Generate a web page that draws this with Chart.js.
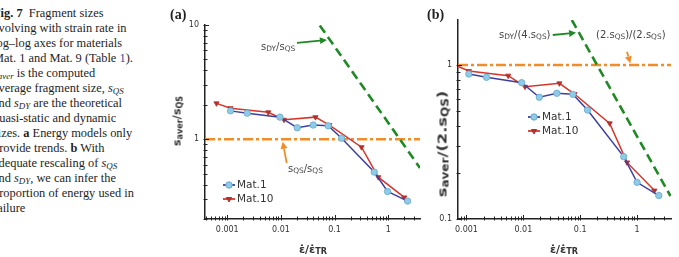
<!DOCTYPE html>
<html>
<head>
<meta charset="utf-8">
<script src="https://cdn.jsdelivr.net/npm/chart.js@4/dist/chart.umd.min.js"></script>
<style>
  body { margin: 0; width: 679px; height: 257px; overflow: hidden; background: #fff; position: relative; font-family: "DejaVu Sans", sans-serif; }
  canvas { position: absolute; top: 0; }
  .abs { position: absolute; white-space: nowrap; }
  #caption { position: absolute; left: -7px; top: 6px; font-family: "Liberation Serif", "Times New Roman", serif; font-size: 12.4px; line-height: 15px; color: #1e1e1e; }
  #caption div { white-space: nowrap; height: 15px; }
  #caption sub { font-size: 72%; vertical-align: -0.2em; line-height: 0; }
  .link { color: #2a4fa8; }
  .panel { font-family: "Liberation Serif", serif; font-weight: bold; font-size: 14px; color: #222; }
  .note { font-size: 10px; color: #444; }
  .note sub, .title sub { font-size: 74%; vertical-align: -0.2em; line-height: 0; }
  .title { font-weight: bold; color: #333; }
  .ytitle { transform: translate(-50%, -50%) rotate(-90deg); }
  .xtitle { transform: translate(-50%, -50%); }
</style>
</head>
<body>
<div id="caption">
  <div><b>Fig. 7</b>&nbsp; Fragment sizes</div>
  <div>evolving with strain rate in</div>
  <div>log–log axes for materials</div>
  <div>Mat. 1 and Mat. 9 (Table <span class="link">1</span>).</div>
  <div><i>s</i><sub><i>aver</i></sub> is the computed</div>
  <div>average fragment size, <i>s<sub>QS</sub></i></div>
  <div>and <i>s<sub>DY</sub></i> are the theoretical</div>
  <div>quasi-static and dynamic</div>
  <div>sizes. <b>a</b> Energy models only</div>
  <div>provide trends. <b>b</b> With</div>
  <div>adequate rescaling of <i>s<sub>QS</sub></i></div>
  <div>and <i>s<sub>DY</sub></i>, we can infer the</div>
  <div>proportion of energy used in</div>
  <div>failure</div>
</div>

<canvas id="chartA" width="270" height="257" style="left:160px"></canvas>
<canvas id="chartB" width="251" height="257" style="left:428px"></canvas>

<div class="abs panel" style="left:170px;top:7px">(a)</div>
<div class="abs panel" style="left:427px;top:7px">(b)</div>

<div class="abs note" style="left:261px;top:41px">s<sub>DY</sub>/s<sub>QS</sub></div>
<div class="abs note" style="left:288px;top:163px">s<sub>QS</sub>/s<sub>QS</sub></div>
<div class="abs note" style="left:499px;top:29px">s<sub>DY</sub>/(4.s<sub>QS</sub>)</div>
<div class="abs note" style="left:596px;top:29px">(2.s<sub>QS</sub>)/(2.s<sub>QS</sub>)</div>

<div class="abs title ytitle" style="left:177px;top:121px;font-size:11px">s<sub>aver</sub>/s<sub>QS</sub></div>
<div class="abs title ytitle" style="left:442px;top:144px;font-size:13px;transform:translate(-50%,-50%) rotate(-90deg) scaleX(1.25)">s<sub>aver</sub>/(2.s<sub>QS</sub>)</div>
<div class="abs title xtitle" style="left:313px;top:249px;font-size:11px">ε̇/ε̇<sub>TR</sub></div>
<div class="abs title xtitle" style="left:564px;top:249px;font-size:11px">ε̇/ε̇<sub>TR</sub></div>

<script>
// tick labels
var xTicksA = [0.001, 0.01, 0.1, 1]
var yTicksA = [1, 10]
var xTicksB = [0.001, 0.01, 0.1, 1]
var yTicksB = [0.1, 1]

// panel (a): s_aver / s_QS
var rateA1 = [0.00115, 0.00236, 0.0096, 0.0201, 0.040, 0.076, 0.135, 0.548, 0.97, 2.29]
var sizeA1 = [1.77, 1.69, 1.56, 1.26, 1.33, 1.31, 1.02, 0.515, 0.348, 0.287]
var rateA10 = [0.00063, 0.00115, 0.0058, 0.0114, 0.044, 0.080, 0.318, 0.652, 1.99]
var sizeA10 = [2.06, 1.87, 1.72, 1.48, 1.56, 1.33, 0.851, 0.465, 0.309]
var dyRateA = [0.053, 3.9]
var dySizeA = [9.9, 0.56]
var qsLevelA = 1

// panel (b): s_aver / (2 s_QS)
var rateB1 = [0.0011, 0.00225, 0.00935, 0.0191, 0.0388, 0.0743, 0.1346, 0.582, 1.0, 2.41]
var sizeB1 = [0.874, 0.832, 0.768, 0.617, 0.655, 0.645, 0.510, 0.254, 0.173, 0.142]
var rateB10 = [0.00062, 0.0011, 0.00543, 0.0107, 0.0431, 0.0794, 0.33, 0.667, 2.02]
var sizeB10 = [1.0, 0.914, 0.853, 0.723, 0.760, 0.648, 0.418, 0.233, 0.153]
var dyRateB = [0.0713, 3.87]
var dySizeB = [1.96, 0.141]
var qsLevelB = 1

var names = ['Mat.1', 'Mat.10']

function pts(xs, ys) {
  return xs.map(function(x, i) { return {x: x, y: ys[i]} })
}

function isLabel(v, labels) {
  return labels.some(function(l) { return Math.abs(v / l - 1) < 1e-6 })
}

function logTicks(min, max) {
  var out = []
  for (var k = Math.floor(Math.log10(min)); k <= Math.ceil(Math.log10(max)); k++) {
    for (var m = 1; m < 10; m++) {
      var v = m * Math.pow(10, k)
      if (v >= min * 0.9999 && v <= max * 1.0001) out.push({value: v})
    }
  }
  return out
}

function axis(min, max, labels, size, pad) {
  return {
    type: 'logarithmic',
    min: min,
    max: max,
    afterBuildTicks: function(scale) { scale.ticks = logTicks(min, max) },
    afterFit: function(scale) {
      if (scale.isHorizontal()) scale.height = size
      else scale.width = size
    },
    grid: {display: false, drawTicks: false},
    border: {color: '#222', width: 1.5},
    ticks: {
      autoSkip: false,
      maxRotation: 0,
      padding: pad,
      color: '#333',
      font: {family: 'DejaVu Sans', size: 8},
      callback: function(v) { return isLabel(v, labels) ? String(v) : '' },
    },
  }
}

// small tick marks, like the original axes
var tickMarks = {
  id: 'tickMarks',
  afterDatasetsDraw: function(chart, args, opts) {
    var ctx = chart.ctx
    var a = chart.chartArea
    ctx.save()
    ctx.strokeStyle = '#222'
    ctx.lineWidth = 1
    chart.scales.x.ticks.forEach(function(t) {
      var px = Math.round(chart.scales.x.getPixelForValue(t.value)) + 0.5
      var len = isLabel(t.value, opts.xLabels) ? 4 : 2.5
      ctx.beginPath()
      ctx.moveTo(px, a.bottom - len)
      ctx.lineTo(px, a.bottom + 1.5)
      ctx.stroke()
    })
    chart.scales.y.ticks.forEach(function(t) {
      var py = Math.round(chart.scales.y.getPixelForValue(t.value)) + 0.5
      var len = isLabel(t.value, opts.yLabels) ? 4 : 2.5
      ctx.beginPath()
      ctx.moveTo(a.left - 1.5, py)
      ctx.lineTo(a.left + len, py)
      ctx.stroke()
    })
    ctx.restore()
  },
}

// arrows pointing from the notes to the reference lines (data coordinates)
var arrows = {
  id: 'arrows',
  afterDatasetsDraw: function(chart, args, opts) {
    var ctx = chart.ctx
    var sx = chart.scales.x, sy = chart.scales.y
    ;(opts.list || []).forEach(function(ar) {
      var x0 = sx.getPixelForValue(ar.from[0]), y0 = sy.getPixelForValue(ar.from[1])
      var x1 = sx.getPixelForValue(ar.to[0]), y1 = sy.getPixelForValue(ar.to[1])
      var ang = Math.atan2(y1 - y0, x1 - x0)
      var hl = 7, hw = 3.5
      var bx = x1 - hl * Math.cos(ang), by = y1 - hl * Math.sin(ang)
      ctx.save()
      ctx.strokeStyle = ar.color
      ctx.fillStyle = ar.color
      ctx.lineWidth = 1.8
      ctx.beginPath()
      ctx.moveTo(x0, y0)
      ctx.lineTo(bx, by)
      ctx.stroke()
      ctx.beginPath()
      ctx.moveTo(x1, y1)
      ctx.lineTo(bx + hw * Math.sin(ang), by - hw * Math.cos(ang))
      ctx.lineTo(bx - hw * Math.sin(ang), by + hw * Math.cos(ang))
      ctx.closePath()
      ctx.fill()
      ctx.restore()
    })
  },
}

// legend drawn inside the plot area
var innerLegend = {
  id: 'innerLegend',
  afterDatasetsDraw: function(chart, args, opts) {
    var ctx = chart.ctx
    var a = chart.chartArea
    ctx.save()
    chart.data.datasets.forEach(function(ds, i) {
      if (!ds.label) return
      var x = a.left + opts.x, y = a.top + opts.y + i * 14
      ctx.strokeStyle = ds.borderColor
      ctx.lineWidth = 1.8
      ctx.beginPath()
      ctx.moveTo(x, y)
      ctx.lineTo(x + 12, y)
      ctx.stroke()
      ctx.fillStyle = ds.pointBackgroundColor
      ctx.strokeStyle = ds.pointBorderColor
      ctx.lineWidth = 1
      Chart.helpers.drawPoint(ctx, {
        pointStyle: ds.pointStyle, rotation: ds.pointRotation || 0,
        radius: ds.pointRadius, borderWidth: 1,
      }, x + 6, y)
      ctx.fillStyle = '#333'
      ctx.font = '10.5px "DejaVu Sans"'
      ctx.textBaseline = 'middle'
      ctx.fillText(ds.label, x + 14, y + 0.5)
    })
    ctx.restore()
  },
}

function datasets(r1, s1, r10, s10, dyR, dyS, xmin, xmax, level) {
  return [
    {
      label: names[0], data: pts(r1, s1),
      borderColor: '#3d3f9e', borderWidth: 1.5,
      pointStyle: 'circle', pointRadius: 3.2,
      pointBackgroundColor: '#8fcbe6', pointBorderColor: '#62a9cf', pointBorderWidth: 0.8,
    },
    {
      label: names[1], data: pts(r10, s10),
      borderColor: '#d8352a', borderWidth: 1.5,
      pointStyle: 'triangle', pointRotation: 180, pointRadius: 3,
      pointBackgroundColor: '#b4302a', pointBorderColor: '#b4302a', pointBorderWidth: 0.8,
    },
    {
      data: pts(dyR, dyS),
      borderColor: '#1f8a23', borderWidth: 2.6, borderDash: [9, 5], pointRadius: 0,
    },
    {
      data: pts([xmin, xmax], [level, level]),
      borderColor: '#f28c28', borderWidth: 2.6, borderDash: [10, 3, 3, 3], pointRadius: 0,
    },
  ]
}

var rangeA = {xmin: 0.000385, xmax: 3.9, ymin: 0.2, ymax: 10}
var rangeB = {xmin: 0.00071, xmax: 3.95, ymin: 0.1, ymax: 1.96}

new Chart(document.getElementById('chartA').getContext('2d'), {
  type: 'line',
  data: {
    datasets: datasets(rateA1, sizeA1, rateA10, sizeA10, dyRateA, dySizeA, rangeA.xmin, rangeA.xmax, qsLevelA),
  },
  options: {
    responsive: false,
    animation: false,
    clip: 0,
    layout: {padding: {left: 15, right: 10, top: 25, bottom: 18}},
    plugins: {
      legend: {display: false},
      tooltip: {enabled: false},
      tickMarks: {xLabels: xTicksA, yLabels: yTicksA},
      innerLegend: {x: 18, y: 160},
      arrows: {list: [
        {from: [0.0199, 6.96], to: [0.072, 7.4], color: '#1f8a23'},
        {from: [0.0128, 0.617], to: [0.0108, 0.95], color: '#f28c28'},
      ]},
    },
    scales: {
      x: axis(rangeA.xmin, rangeA.xmax, xTicksA, 20, 6),
      y: axis(rangeA.ymin, rangeA.ymax, yTicksA, 30, 6),
    },
  },
  plugins: [tickMarks, arrows, innerLegend],
})

new Chart(document.getElementById('chartB').getContext('2d'), {
  type: 'line',
  data: {
    datasets: datasets(rateB1, sizeB1, rateB10, sizeB10, dyRateB, dySizeB, rangeB.xmin, rangeB.xmax, qsLevelB),
  },
  options: {
    responsive: false,
    animation: false,
    clip: 0,
    layout: {padding: {left: 2, right: 8, top: 20, bottom: 18}},
    plugins: {
      legend: {display: false},
      tooltip: {enabled: false},
      tickMarks: {xLabels: xTicksB, yLabels: yTicksB},
      innerLegend: {x: 70, y: 97},
      arrows: {list: [
        {from: [0.0329, 1.566], to: [0.0847, 1.62], color: '#1f8a23'},
        {from: [0.664, 1.22], to: [0.759, 1.025], color: '#f28c28'},
      ]},
    },
    scales: {
      x: axis(rangeB.xmin, rangeB.xmax, xTicksB, 20, 6),
      y: axis(rangeB.ymin, rangeB.ymax, yTicksB, 28, 6),
    },
  },
  plugins: [tickMarks, arrows, innerLegend],
})
</script>
</body>
</html>
